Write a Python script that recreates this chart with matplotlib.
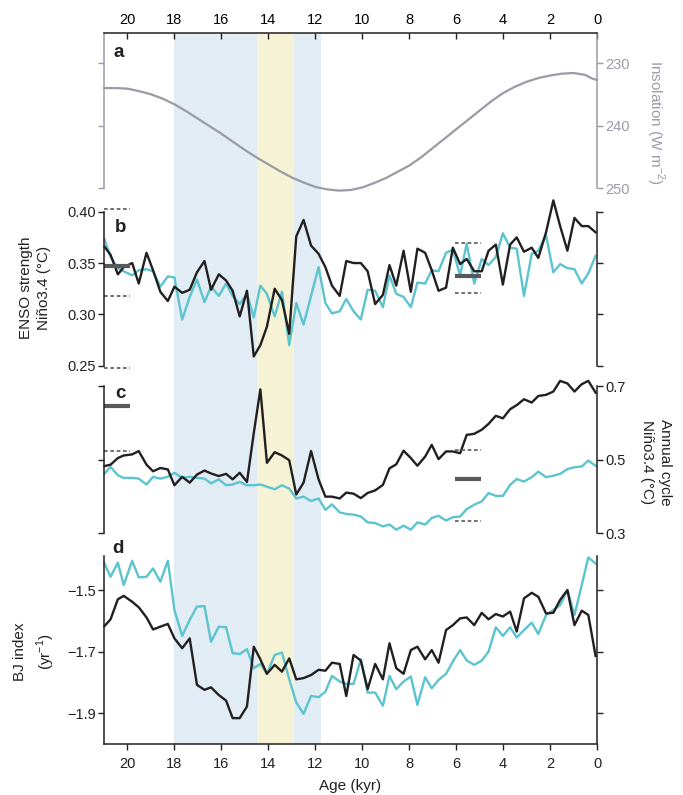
import matplotlib.pyplot as plt

plt.rcParams['font.family'] = ['Liberation Sans', 'DejaVu Sans']
plt.rcParams['mathtext.fontset'] = 'custom'
plt.rcParams['mathtext.rm'] = 'Liberation Sans'

# ages (kyr BP) shared by the model series
age = [20.98, 20.72, 20.41, 20.16, 19.80, 19.52, 19.19, 18.91, 18.60, 18.28,
       18.00, 17.67, 17.35, 17.04, 16.72, 16.44, 16.11, 15.80, 15.52, 15.22,
       14.91, 14.62, 14.34, 14.06, 13.73, 13.42, 13.11, 12.81, 12.50, 12.18,
       11.86, 11.57, 11.29, 10.96, 10.68, 10.37, 10.06, 9.77, 9.45, 9.12,
       8.84, 8.55, 8.24, 7.93, 7.65, 7.32, 7.04, 6.75, 6.43, 6.14,
       5.83, 5.55, 5.23, 4.91, 4.62, 4.31, 4.01, 3.70, 3.42, 3.11,
       2.78, 2.50, 2.17, 1.86, 1.57, 1.26, 0.96, 0.65, 0.37, 0.06]

# a: insolation
ins_age = [21, 20.5, 20, 19.5, 19, 18.5, 18, 17.5, 17, 16.5, 16, 15.5, 15, 14.5, 14, 13.5,
           13, 12.5, 12, 11.5, 11, 10.5, 10, 9.5, 9, 8.5, 8, 7.5, 7, 6.5, 6, 5.5, 5, 4.5,
           4, 3.5, 3, 2.5, 2, 1.5, 1, 0.5, 0.2, 0]
ins_val = [234.0, 234.0, 234.1, 234.5, 235.0, 235.7, 236.6, 237.7, 238.9, 240.1, 241.3,
           242.6, 243.9, 245.1, 246.2, 247.3, 248.3, 249.1, 249.8, 250.2, 250.4, 250.3,
           249.9, 249.2, 248.4, 247.4, 246.4, 245.1, 243.6, 242.1, 240.6, 239.1, 237.6,
           236.1, 234.8, 233.8, 233.0, 232.4, 232.0, 231.7, 231.6, 231.9, 232.5, 232.7]

# b: ENSO strength
enso_black = [0.366, 0.358, 0.339, 0.346, 0.350, 0.330, 0.360, 0.343, 0.322, 0.313,
              0.327, 0.321, 0.324, 0.341, 0.352, 0.324, 0.339, 0.333, 0.323, 0.298,
              0.323, 0.259, 0.270, 0.288, 0.325, 0.314, 0.281, 0.376, 0.392, 0.367,
              0.359, 0.346, 0.328, 0.318, 0.352, 0.350, 0.350, 0.342, 0.310, 0.319,
              0.348, 0.328, 0.362, 0.322, 0.364, 0.360, 0.343, 0.323, 0.326, 0.365,
              0.349, 0.354, 0.342, 0.342, 0.362, 0.368, 0.329, 0.368, 0.375, 0.361,
              0.365, 0.355, 0.380, 0.411, 0.386, 0.362, 0.394, 0.386, 0.386, 0.380]
enso_cyan = [0.373, 0.356, 0.345, 0.342, 0.338, 0.343, 0.344, 0.342, 0.327, 0.337,
             0.336, 0.295, 0.317, 0.334, 0.312, 0.327, 0.318, 0.330, 0.318, 0.310,
             0.320, 0.297, 0.328, 0.320, 0.298, 0.322, 0.270, 0.311, 0.290, 0.318,
             0.346, 0.311, 0.301, 0.303, 0.315, 0.303, 0.295, 0.324, 0.323, 0.307,
             0.338, 0.320, 0.317, 0.307, 0.331, 0.330, 0.343, 0.342, 0.360, 0.363,
             0.338, 0.369, 0.330, 0.354, 0.348, 0.356, 0.379, 0.365, 0.364, 0.318,
             0.359, 0.362, 0.377, 0.341, 0.349, 0.345, 0.344, 0.330, 0.340, 0.357]

# c: annual cycle
ann_black = [0.482, 0.486, 0.504, 0.511, 0.514, 0.523, 0.486, 0.468, 0.477, 0.473,
             0.430, 0.453, 0.437, 0.459, 0.470, 0.462, 0.455, 0.461, 0.446, 0.464,
             0.439, 0.572, 0.691, 0.491, 0.520, 0.511, 0.498, 0.405, 0.437, 0.523,
             0.446, 0.399, 0.399, 0.394, 0.410, 0.407, 0.395, 0.409, 0.416, 0.431,
             0.476, 0.487, 0.524, 0.504, 0.483, 0.508, 0.540, 0.501, 0.522, 0.522,
             0.517, 0.567, 0.570, 0.581, 0.597, 0.619, 0.612, 0.637, 0.648, 0.664,
             0.655, 0.673, 0.676, 0.685, 0.714, 0.707, 0.685, 0.705, 0.714, 0.682]
ann_cyan = [0.462, 0.480, 0.457, 0.450, 0.450, 0.448, 0.432, 0.453, 0.448, 0.453,
            0.464, 0.450, 0.453, 0.450, 0.448, 0.435, 0.446, 0.430, 0.432, 0.439,
            0.430, 0.430, 0.432, 0.426, 0.419, 0.430, 0.421, 0.394, 0.399, 0.387,
            0.394, 0.363, 0.378, 0.356, 0.352, 0.350, 0.345, 0.329, 0.327, 0.318,
            0.323, 0.309, 0.320, 0.309, 0.329, 0.323, 0.341, 0.347, 0.334, 0.343,
            0.345, 0.365, 0.377, 0.386, 0.409, 0.401, 0.401, 0.431, 0.447, 0.440,
            0.452, 0.467, 0.452, 0.456, 0.461, 0.474, 0.479, 0.481, 0.497, 0.483]

# d: BJ index
bj_black = [-1.617, -1.595, -1.530, -1.519, -1.538, -1.556, -1.589, -1.628, -1.619, -1.610,
            -1.657, -1.689, -1.657, -1.808, -1.824, -1.816, -1.841, -1.859, -1.916, -1.916,
            -1.878, -1.684, -1.725, -1.772, -1.743, -1.765, -1.722, -1.790, -1.786, -1.776,
            -1.759, -1.762, -1.736, -1.740, -1.844, -1.711, -1.729, -1.822, -1.740, -1.790,
            -1.673, -1.754, -1.772, -1.695, -1.684, -1.725, -1.695, -1.736, -1.630, -1.614,
            -1.592, -1.589, -1.614, -1.574, -1.595, -1.578, -1.586, -1.570, -1.635, -1.527,
            -1.509, -1.522, -1.576, -1.574, -1.532, -1.500, -1.614, -1.567, -1.581, -1.714]
bj_cyan = [-1.414, -1.457, -1.411, -1.484, -1.405, -1.459, -1.457, -1.430, -1.473, -1.405,
           -1.565, -1.649, -1.597, -1.554, -1.552, -1.668, -1.619, -1.621, -1.705, -1.708,
           -1.692, -1.754, -1.740, -1.772, -1.711, -1.703, -1.790, -1.865, -1.902, -1.844,
           -1.848, -1.830, -1.779, -1.797, -1.805, -1.805, -1.725, -1.833, -1.833, -1.876,
           -1.779, -1.822, -1.797, -1.781, -1.873, -1.783, -1.819, -1.792, -1.772, -1.732,
           -1.695, -1.729, -1.743, -1.729, -1.700, -1.621, -1.649, -1.621, -1.654, -1.630,
           -1.606, -1.643, -1.581, -1.565, -1.549, -1.500, -1.581, -1.484, -1.394, -1.414]

# observed ranges (solid = mean, dashed = bounds)
b_left = (0.347, [0.403, 0.3175, 0.2477])
b_right = (0.337, [0.370, 0.321])
c_left = (0.646, [0.524])
c_right = (0.447, [0.526, 0.332])
left_span = (21.0, 19.9)
right_span = (6.04, 4.94)

BLACK = '#231f20'
CYAN = '#5bc4cf'
GRAY = '#9a9ba5'
MARK = '#58595b'
TICK_FS = 10.5
LABEL_FS = 11
W, H = 683, 795


def rect(top, bottom):
    return [104 / W, 1 - bottom / H, 493 / W, (bottom - top) / H]


def style(ax, ylim, bounds, ticks, color=BLACK):
    ax.set_xlim(21, 0)
    ax.set_ylim(*ylim)
    ax.patch.set_alpha(0)
    ax.spines['top'].set_visible(False)
    ax.spines['bottom'].set_visible(False)
    for s in ['left', 'right']:
        ax.spines[s].set_bounds(*bounds)
        ax.spines[s].set_color(color)
        ax.spines[s].set_linewidth(1.1)
    ax.set_yticks(ticks)
    ax.set_xticks([])
    ax.tick_params(axis='y', left=True, right=True, direction='out', length=4,
                   width=1.0, color=color, labelcolor=color, labelsize=TICK_FS, pad=2)


def marks(ax, span, mean, bounds):
    ax.plot(span, [mean, mean], color=MARK, lw=3, solid_capstyle='butt', clip_on=False)
    for v in bounds:
        ax.plot(span, [v, v], color=MARK, lw=1.2, dashes=(2.2, 1.6), clip_on=False)


fig = plt.figure(figsize=(W / 100, H / 100), dpi=100)

# shading behind everything
bg = fig.add_axes(rect(33, 744))
bg.set_xlim(21, 0)
bg.axis('off')
bg.axvspan(11.75, 18, color='#e1ecf4', lw=0)
bg.axvspan(12.9, 14.5, color='#f6f2d5', lw=0)

# a
ax_a = fig.add_axes(rect(33, 195))
style(ax_a, (251.1, 225.2), (225.2, 250), [230, 240, 250], GRAY)
ax_a.spines['top'].set_visible(True)
ax_a.spines['top'].set_color(BLACK)
ax_a.spines['top'].set_linewidth(1.1)
ax_a.tick_params(axis='y', labelleft=False, labelright=True)
ax_a.xaxis.tick_top()
ax_a.set_xticks(range(20, -1, -2))
ax_a.tick_params(axis='x', top=True, direction='in', length=4, width=1.0,
                 color=BLACK, labelsize=TICK_FS, pad=4)
ax_a.plot(ins_age, ins_val, color=GRAY, lw=1.6, clip_on=False)
fig.text(655 / W, 1 - 122 / H, 'Insolation (W m$^{-2}$)', rotation=270, ha='center',
         va='center', color=GRAY, fontsize=LABEL_FS)

# b
ax_b = fig.add_axes(rect(195, 370))
style(ax_b, (0.2458, 0.4163), (0.25, 0.40), [0.25, 0.30, 0.35, 0.40])
ax_b.set_yticklabels(['0.25', '0.30', '0.35', '0.40'])
ax_b.tick_params(axis='y', labelright=False)
ax_b.plot(age, enso_cyan, color=CYAN, lw=1.7, clip_on=False)
ax_b.plot(age, enso_black, color=BLACK, lw=1.7, clip_on=False)
marks(ax_b, left_span, *b_left)
marks(ax_b, right_span, *b_right)
fig.text(35 / W, 1 - 288 / H, 'ENSO strength\nNiño3.4 (°C)', rotation=90, ha='center',
         va='center', color=BLACK, fontsize=LABEL_FS, linespacing=1.45)

# c
ax_c = fig.add_axes(rect(375, 540))
style(ax_c, (0.281, 0.730), (0.3, 0.7), [0.3, 0.5, 0.7])
ax_c.set_yticklabels(['0.3', '0.5', '0.7'])
ax_c.tick_params(axis='y', labelleft=False, labelright=True)
ax_c.plot(age, ann_cyan, color=CYAN, lw=1.7, clip_on=False)
ax_c.plot(age, ann_black, color=BLACK, lw=1.7, clip_on=False)
marks(ax_c, left_span, *c_left)
marks(ax_c, right_span, *c_right)
fig.text(656 / W, 1 - 462 / H, 'Annual cycle\nNiño3.4 (°C)', rotation=270, ha='center',
         va='center', color=BLACK, fontsize=LABEL_FS, linespacing=1.45)

# d
ax_d = fig.add_axes(rect(550, 744))
style(ax_d, (-2.0, -1.37), (-2.0, -1.39), [-1.9, -1.7, -1.5])
ax_d.set_yticklabels(['\u22121.9', '\u22121.7', '\u22121.5'])
ax_d.tick_params(axis='y', labelright=False)
ax_d.spines['bottom'].set_visible(True)
ax_d.spines['bottom'].set_linewidth(1.1)
ax_d.spines['bottom'].set_color(BLACK)
ax_d.set_xticks(range(20, -1, -2))
ax_d.tick_params(axis='x', bottom=True, direction='out', length=4, width=1.0,
                 labelsize=TICK_FS, pad=5, color=BLACK, labelcolor=BLACK)
ax_d.plot(age, bj_cyan, color=CYAN, lw=1.7, clip_on=False)
ax_d.plot(age, bj_black, color=BLACK, lw=1.7, clip_on=False)
ax_d.set_xlabel('Age (kyr)', fontsize=LABEL_FS, color=BLACK, labelpad=6)
fig.text(35 / W, 1 - 652 / H, 'BJ index\n(yr$^{-1}$)', rotation=90, ha='center',
         va='center', color=BLACK, fontsize=LABEL_FS, linespacing=1.45)

for lab, x, y in [('a', 113, 57), ('b', 115, 232), ('c', 115, 398), ('d', 112, 553)]:
    fig.text(x / W, 1 - y / H, lab, fontsize=13.5, fontweight='bold', color=BLACK)

fig.savefig('out.png', dpi=100)
